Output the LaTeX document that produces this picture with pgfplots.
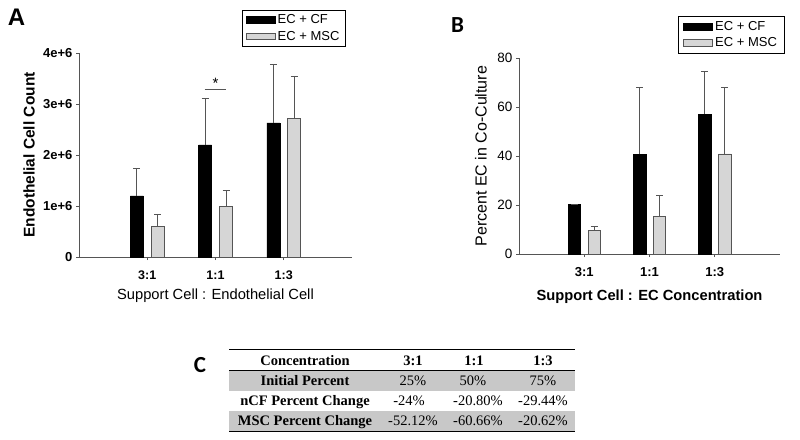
\documentclass[border=0pt]{standalone}
\usepackage{pgfplots}
\pgfplotsset{compat=1.18}
\usepackage{fontspec}
\setmainfont{Liberation Sans}
\newfontfamily\tabfont{Liberation Serif}
\newfontfamily\panelfont{Carlito}
\newcommand{\fs}[1]{\fontsize{#1pt}{#1pt}\selectfont}

\definecolor{mscgray}{RGB}{214,214,214}
\definecolor{axgray}{RGB}{85,85,85}
\definecolor{rowgray}{RGB}{200,200,200}

\pgfplotsset{
  mybars/.style={
    scale only axis, xmin=0, xmax=4, ymin=0,
    axis x line*=bottom, axis y line*=left,
    axis line style={axgray, line width=0.9pt, -},
    tick style={axgray, line width=0.8pt},
    tick align=outside, major tick length=3pt,
    xtick={1,2,3}, xticklabels={3:1,1:1,1:3},
    xticklabel style={yshift=-7pt},
    scaled y ticks=false,
    clip=false,
    legend cell align=left,
  },
  legimg/.style={
    legend image code/.code={\draw[##1] (0pt,-3.3pt) rectangle (29pt,3.3pt);},
  },
  errstyle/.style={
    error bars/.cd, y dir=plus, y explicit,
    error bar style={axgray, line width=0.8pt},
    error mark options={rotate=90, axgray, line width=0.8pt, mark size=3.5pt},
  },
}

\begin{document}
\begin{tikzpicture}
\path[use as bounding box] (0,0) rectangle (800pt,-439pt);

% ---------------- Panel A ----------------
\begin{axis}[mybars,
  ybar=8pt, bar width=13pt, legimg,
  at={(79pt,-257pt)}, anchor=south west,
  width=273pt, height=204pt,
  ymax=4000000,
  ytick={0,1000000,2000000,3000000,4000000},
  yticklabels={0,1e+6,2e+6,3e+6,4e+6},
  yticklabel style={font=\fs{13}\bfseries},
  xticklabel style={font=\fs{12.5}\bfseries},
  ylabel={Endothelial Cell Count},
  ylabel style={font=\fs{15.5}\bfseries, at={(axis description cs:-0.183,0.5)}, anchor=center},
  xlabel={Support Cell : Endothelial Cell},
  xlabel style={font=\fs{14.7}, at={(axis description cs:0.5,-0.19)}, anchor=center},
  legend style={at={(axis description cs:0.597,1.211)}, anchor=north west,
    draw=black, line width=0.8pt, font=\fs{13}, inner xsep=3.5pt, inner ysep=2.5pt,
    row sep=1.5pt, /tikz/every even column/.append style={column sep=4pt}},
]
\addplot[fill=black, draw=black, errstyle] coordinates {
  (1,1200000) +- (0,530000)
  (2,2200000) +- (0,910000)
  (3,2630000) +- (0,1150000)
};
\addplot[fill=mscgray, draw=axgray, line width=0.7pt, errstyle] coordinates {
  (1,594000) +- (0,243000)
  (2,994000) +- (0,316000)
  (3,2710000) +- (0,840000)
};
\legend{EC + CF, EC + MSC}
\draw[axgray, line width=0.8pt] (axis cs:1.84,3290000) -- (axis cs:2.16,3290000);
\node[font=\fs{15}, inner sep=0pt] at (axis cs:2.0,3400000) {*};
\end{axis}

% ---------------- Panel B ----------------
\begin{axis}[mybars,
  ybar=7.5pt, bar width=12.5pt, legimg,
  at={(519pt,-254pt)}, anchor=south west,
  width=261pt, height=195.7pt,
  ymax=80,
  ytick={0,20,40,60,80},
  yticklabels={0,20,40,60,80},
  yticklabel style={font=\fs{13.5}},
  xticklabel style={font=\fs{13}\bfseries},
  ylabel={Percent EC in Co-Culture},
  ylabel style={font=\fs{16}, at={(axis description cs:-0.146,0.5)}, anchor=center},
  xlabel={Support Cell : EC Concentration},
  xlabel style={font=\fs{14.7}\bfseries, at={(axis description cs:0.5,-0.22)}, anchor=center},
  legend style={at={(axis description cs:0.609,1.216)}, anchor=north west,
    draw=black, line width=0.8pt, font=\fs{13}, inner xsep=5pt, inner ysep=3pt,
    row sep=1.5pt, /tikz/every even column/.append style={column sep=6pt}},
]
\addplot[fill=black, draw=black, errstyle] coordinates {
  (1,20.4) +- (0,0)
  (2,40.8) +- (0,27.3)
  (3,57.2) +- (0,17.5)
};
\addplot[fill=mscgray, draw=axgray, line width=0.7pt, errstyle] coordinates {
  (1,9.5) +- (0,1.7)
  (2,15.3) +- (0,8.5)
  (3,40.9) +- (0,27.2)
};
\legend{EC + CF, EC + MSC}
\end{axis}

% ---------------- Panel letters ----------------
\node[font=\fs{24}\bfseries, inner sep=0pt] at (16.5pt,-17.5pt) {A};
\node[font=\panelfont\fs{23}\bfseries, inner sep=0pt] at (457.5pt,-25.5pt) {B};
\node[font=\panelfont\fs{23}\bfseries, inner sep=0pt] at (200pt,-365.5pt) {C};

% ---------------- Panel C table ----------------
\fill[rowgray] (229pt,-371pt) rectangle (575pt,-390.5pt);
\fill[rowgray] (229pt,-411pt) rectangle (575pt,-430.5pt);
\draw[line width=1.5pt] (229pt,-349.3pt) -- (575pt,-349.3pt);
\draw[line width=1.2pt] (229pt,-370.5pt) -- (575pt,-370.5pt);
\draw[line width=1.5pt] (229pt,-431.5pt) -- (575pt,-431.5pt);
\begin{scope}[every node/.style={inner sep=0pt, anchor=base, font=\tabfont\fs{14.5}}]
\node[font=\tabfont\fs{14.5}\bfseries] at (305pt,-365pt) {Concentration};
\node[font=\tabfont\fs{14.5}\bfseries] at (413pt,-365pt) {3:1};
\node[font=\tabfont\fs{14.5}\bfseries] at (474pt,-365pt) {1:1};
\node[font=\tabfont\fs{14.5}\bfseries] at (543pt,-365pt) {1:3};
\node[font=\tabfont\fs{14.5}\bfseries] at (305pt,-385.3pt) {Initial Percent};
\node at (413pt,-385.3pt) {25\%};
\node at (473pt,-385.3pt) {50\%};
\node at (543pt,-385.3pt) {75\%};
\node[font=\tabfont\fs{14.5}\bfseries] at (305pt,-405.7pt) {nCF Percent Change};
\node at (409pt,-405.7pt) {-24\%};
\node at (478pt,-405.7pt) {-20.80\%};
\node at (543pt,-405.7pt) {-29.44\%};
\node[font=\tabfont\fs{14.5}\bfseries] at (305pt,-425.7pt) {MSC Percent Change};
\node at (413pt,-425.7pt) {-52.12\%};
\node at (478pt,-425.7pt) {-60.66\%};
\node at (543pt,-425.7pt) {-20.62\%};
\end{scope}
\end{tikzpicture}
\end{document}
